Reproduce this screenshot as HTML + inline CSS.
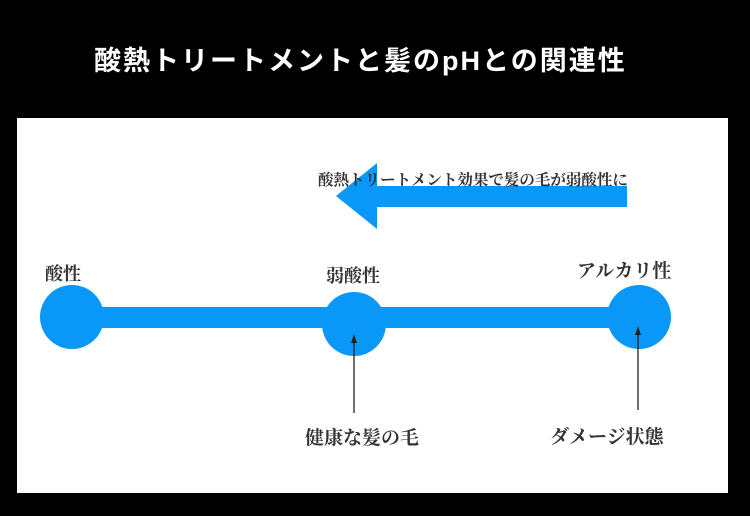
<!DOCTYPE html>
<html><head><meta charset="utf-8"><style>
body{margin:0;width:750px;height:516px;background:#000;overflow:hidden;position:relative}
.t{position:absolute;white-space:nowrap;font-family:"Liberation Serif","Noto Serif CJK SC",serif;color:#333;font-weight:bold}
</style></head><body>
<div style="position:absolute;left:94px;top:39px;font:bold 27px 'Liberation Sans','Noto Sans CJK JP',sans-serif;color:#fff;white-space:nowrap;letter-spacing:2px">酸熱トリートメントと髪のpHとの関連性</div>
<div style="position:absolute;left:17px;top:118px;width:711px;height:375px;background:#fff"></div>
<svg style="position:absolute;left:0;top:0" width="750" height="516">
<polygon points="627,186 377,186 377,163 336,196 377,229 377,207 627,207" fill="#0a98f8"/>
<rect x="72" y="307" width="567" height="21" fill="#0a98f8"/>
<ellipse cx="72" cy="317" rx="32" ry="32" fill="#0a98f8"/>
<ellipse cx="354" cy="324" rx="32" ry="32" fill="#0a98f8"/>
<ellipse cx="639" cy="317" rx="32" ry="32" fill="#0a98f8"/>
<line x1="354" y1="342" x2="354" y2="413" stroke="#222" stroke-width="1.3"/>
<polygon points="354,334 351,343 357,343" fill="#222"/>
<line x1="638" y1="334" x2="638" y2="410" stroke="#222" stroke-width="1.3"/>
<polygon points="638,326 635,335 641,335" fill="#222"/>
</svg>
<div class="t" style="left:318px;top:168px;font-size:15.5px">酸熱トリートメント効果で髪の毛が弱酸性に</div>
<div class="t" style="left:45px;top:260px;font-size:18px">酸性</div>
<div class="t" style="left:326px;top:262px;font-size:18px">弱酸性</div>
<div class="t" style="left:577px;top:256px;font-size:19px">アルカリ性</div>
<div class="t" style="left:305px;top:423px;font-size:19px">健康な髪の毛</div>
<div class="t" style="left:550px;top:422px;font-size:19px">ダメージ状態</div>
</body></html>
